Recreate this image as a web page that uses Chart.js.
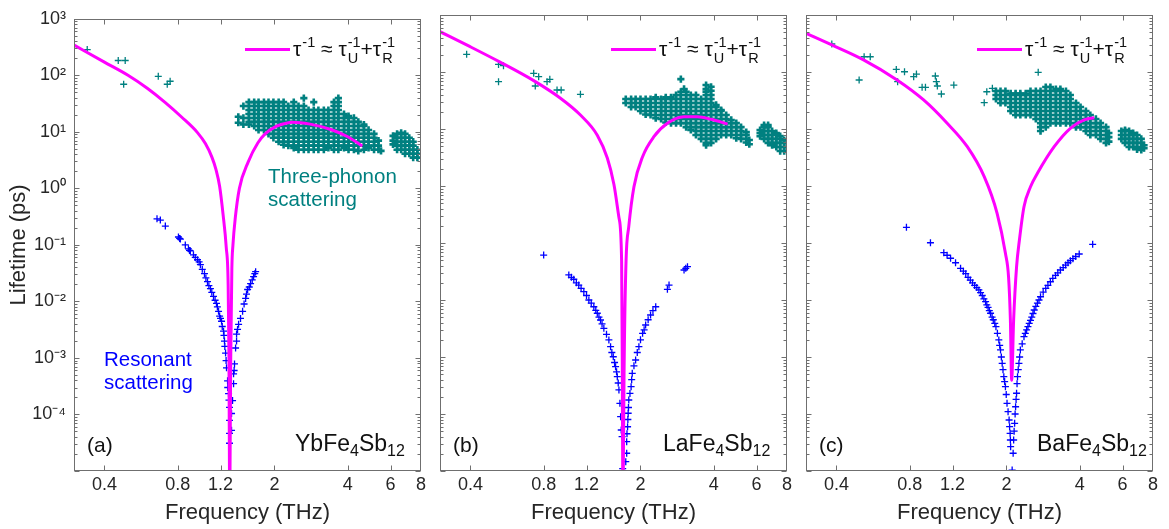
<!DOCTYPE html>
<html><head><meta charset="utf-8">
<script src="https://cdn.jsdelivr.net/npm/chart.js@4.4.1/dist/chart.umd.min.js"></script>
<style>
html,body{margin:0;padding:0;background:#fff;}
#wrap{position:relative;width:1169px;height:529px;overflow:hidden;font-family:"Liberation Sans",Arial,sans-serif;color:#262626;}
canvas{position:absolute;left:0;top:0;}
.t{position:absolute;white-space:nowrap;}
.ann{font-size:20.5px;line-height:23px;}
.tag{font-size:21px;line-height:22px;color:#111;}
.lab{font-size:23px;line-height:22px;color:#111;}
.lab sub{font-size:16px;vertical-align:-5px;line-height:0;}
.leg{font-size:21px;line-height:30px;color:#111;}
.st{display:inline-flex;flex-direction:column;vertical-align:middle;font-size:14.5px;line-height:16px;margin-left:1px;}
.bar{position:absolute;height:3px;width:45px;background:#ff00ff;}
</style></head><body><div id="wrap">
<canvas id="ca" width="1169" height="529"></canvas>
<canvas id="cb" width="1169" height="529"></canvas>
<canvas id="cc" width="1169" height="529"></canvas>
</div>
<script>
// ---------- axis ticks ----------
const xTickVals = [0.4, 0.8, 1.2, 2, 4, 6, 8];
const xTickLabels = ['0.4', '0.8', '1.2', '2', '4', '6', '8'];
const yTickVals = [1e-4, 1e-3, 1e-2, 1e-1, 1, 10, 100, 1000];
const yTickLabels = ['10\u207B\u2074', '10\u207B\u00B3', '10\u207B\u00B2', '10\u207B\u00B9', '10\u2070', '10\u00B9', '10\u00B2', '10\u00B3'];
const panelTags = ['(a)', '(b)', '(c)'];
const compounds = [['YbFe', '4', 'Sb', '12'], ['LaFe', '4', 'Sb', '12'], ['BaFe', '4', 'Sb', '12']];

// ---------- fitted curves: tau^-1 ~ tau_U^-1 + tau_R^-1 (freq THz, lifetime ps) ----------
const curveA = [[0.298,350],[0.4,171],[0.5,100],[0.6,58.9],[0.71,33.2],[0.83,18.3],[0.965,9.7],[1.04,6.2],[1.107,3.54],[1.15,2.15],[1.19,1.09],[1.23,0.34],[1.267,0.09],[1.29,0.02],[1.30,1e-3],[1.306,1e-5],[1.309,1e-7],[1.313,1e-5],[1.322,1e-3],[1.336,0.038],[1.35,0.1],[1.38,0.3],[1.435,1.0],[1.56,2.95],[1.71,6.4],[1.83,9.2],[2.04,12.6],[2.2,14.0],[2.37,14.8],[2.8,13.7],[3.41,11],[4.0,8.2],[4.59,5.6]];
const curveB = [[0.3,509],[0.399,278],[0.53,149],[0.728,70.6],[0.938,34.7],[1.133,17.6],[1.329,7.8],[1.461,3.09],[1.555,1.07],[1.631,0.28],[1.673,0.048],[1.683,1e-3],[1.69,1e-5],[1.695,1e-7],[1.70,1e-5],[1.715,1e-3],[1.745,0.05],[1.79,0.193],[1.88,0.973],[2.04,3.27],[2.27,7.33],[2.58,12.6],[3.02,16.4],[3.43,16.4],[3.9,14.8],[4.56,12.2]];
const curveC = [[0.3,477],[0.383,298],[0.517,163],[0.71,72.4],[0.913,32.3],[1.141,12.6],[1.38,4.89],[1.62,1.46],[1.83,0.332],[1.98,0.0659],[2.04,0.025],[2.075,4.5e-3],[2.10,3.9e-4],[2.14,4.5e-3],[2.2,0.038],[2.26,0.113],[2.36,0.434],[2.51,0.97],[2.68,1.67],[3.14,4.89],[3.66,10.3],[4.17,14.4],[4.59,15.8]];

// ---------- three-phonon lifetimes: isolated low-frequency points ----------
const tpSparseA = [[0.34,286],[0.456,183],[0.487,183],[0.48,69.5],[0.666,96],[0.725,69.5],[0.745,78.5]];
const tpSparseB = [[0.386,204],[0.522,136],[0.547,129],[0.522,67.6],[0.728,94.8],[0.763,82.8],[0.739,56.8],[0.826,67.6],[0.848,74.5],[0.908,48.3],[0.944,48.3],[1.133,40.6]];
const tpSparseC = [[0.383,310],[0.52,185],[0.551,185],[0.496,72.4],[0.705,111],[0.762,101],[0.831,82.8],[0.853,92],[0.714,67.6],[0.9,53.9],[0.929,53.9],[1.02,85],[1.03,67.6],[1.04,56.8],[1.08,41.1],[1.215,59],[2.70,98.8],[1.62,29],[1.66,45],[1.75,51.8]];

// ---------- three-phonon lifetimes: dense clusters, [freq, [lifetimes...]] ----------
const tpClusterA = [
[1.42,[18.5,14.5]],[1.49,[28.6,17.6,13.5]],[1.57,[33.6,28.6,24.3,20.7,17.6,15.0,13.5]],
[1.65,[33.6,28.6,24.3,20.7,17.6,15.0,12.7]],[1.72,[33.6,28.6,24.3,20.7,17.6,15.0,12.7,10.8]],
[1.81,[33.6,28.6,24.3,20.7,17.6,15.0,12.7,10.8]],[1.89,[33.6,28.6,24.3,20.7,17.6,15.0,12.7,10.8,9.2]],
[1.98,[33.6,28.6,24.3,20.7,17.6,15.0,12.7,10.8,9.2,7.85]],[2.08,[33.6,28.6,24.3,20.7,17.6,15.0,12.7,10.8,9.2,7.85,6.7]],
[2.18,[33.6,28.6,24.3,20.7,17.6,15.0,12.7,10.8,9.2,7.85,6.7,5.9]],[2.28,[28.6,24.3,20.7,17.6,15.0,12.7,10.8,9.2,7.85,6.7,5.7]],
[2.40,[33.6,28.6,24.3,20.7,17.6,15.0,12.7,10.8,9.2,7.85,6.7,5.7,5.2]],[2.51,[28.6,24.3,20.7,17.6,15.0,12.7,10.8,9.2,7.85,6.7,5.7,4.83]],
[2.64,[39.5,28.6,24.3,20.7,17.6,15.0,12.7,10.8,9.2,7.85,6.7,5.7,4.83]],[2.76,[24.3,20.7,17.6,15.0,12.7,10.8,9.2,7.85,6.7,5.7,4.83]],
[2.90,[33.6,24.3,20.7,17.6,15.0,12.7,10.8,9.2,7.85,6.7,5.7,4.83]],[3.03,[24.3,20.7,17.6,15.0,12.7,10.8,9.2,7.85,6.7,5.7,4.83]],
[3.19,[24.3,20.7,17.6,15.0,12.7,10.8,9.2,7.85,6.7,5.7,4.83]],[3.33,[24.3,20.7,17.6,15.0,12.7,10.8,9.2,7.85,6.7,5.7,5.2]],
[3.51,[33.6,28.6,24.3,20.7,17.6,15.0,12.7,10.8,9.2,7.85,6.7,5.7,4.83]],[3.66,[39.5,33.6,28.6,24.3,20.7,17.6,15.0,12.7,10.8,9.2,7.85,6.7,5.7,4.83]],
[3.86,[20.7,17.6,15.0,12.7,10.8,9.2,7.85,6.7,5.7,5.2]],[4.03,[19.0,17.6,15.0,12.7,10.8,9.2,7.85,6.7,5.7,4.83]],
[4.24,[17.6,15.0,12.7,10.8,9.2,7.85,6.7,5.7,4.83]],[4.42,[15.0,12.7,10.8,9.2,7.85,6.7,5.7,4.6]],
[4.66,[13.5,12.7,10.8,9.2,7.85,6.7,5.7,4.83]],[4.87,[10.8,9.2,7.85,6.7,5.7,5.2]],[5.13,[9.2,7.85,6.7,5.7,4.83]],
[5.35,[7.0,5.7,4.83]],[5.48,[4.6]],
[6.14,[8.5,7.0,6.0]],[6.38,[9.2,7.85,6.7,5.7,4.83]],[6.63,[9.6,7.85,6.7,5.7,4.83]],[6.88,[9.2,7.85,6.7,5.7,4.83,4.1]],
[7.16,[7.85,6.7,5.7,4.83,4.1]],[7.43,[6.7,5.7,4.83,4.1,3.5]],[7.73,[4.83,4.1,3.5]]
];
const tpClusterB = [
[1.74,[33.6,28.6]],[1.83,[33.6,28.6,24.3]],[1.91,[33.6,28.6,24.3]],[2.0,[33.6,28.6,24.3,20.7]],
[2.10,[33.6,28.6,24.3,20.7,18.0]],[2.20,[33.6,28.6,24.3,20.7,17.6]],[2.31,[36.0,33.6,28.6,24.3,20.7,17.6,15.5]],
[2.43,[33.6,28.6,24.3,20.7,17.6,15.0]],[2.54,[36.0,33.6,28.6,24.3,20.7,17.6,15.0,13.0]],
[2.67,[36.0,33.6,28.6,24.3,20.7,17.6,15.0,12.7]],[2.80,[39.5,33.6,28.6,24.3,20.7,17.6,15.0,12.7]],
[2.93,[75,45,39.5,33.6,28.6,24.3,20.7,17.6,15.0,12.7]],[3.02,[50.4]],
[3.08,[45,39.5,33.6,28.6,24.3,20.7,17.6,15.0,12.7,10.8]],[3.22,[39.5,33.6,28.6,24.3,20.7,17.6,15.0,12.7,10.8,9.6]],
[3.38,[39.5,33.6,28.6,24.3,20.7,17.6,15.0,12.7,10.8,9.2,7.85]],[3.55,[33.6,28.6,24.3,20.7,17.6,15.0,12.7,10.8,9.2,7.85,6.7]],
[3.72,[59,50,45,39.5,33.6,28.6,24.3,20.7,17.6,15.0,12.7,10.8,9.2,7.85,6.7,5.7,5.2]],
[3.90,[55,47,39.5,33.6,28.6,24.3,20.7,17.6,15.0,12.7,10.8,9.2,7.85,6.7,5.7]],
[4.09,[26.4,24.3,20.7,17.6,15.0,12.7,10.8,9.2,7.85,6.7]],[4.29,[21.5,20.7,17.6,15.0,12.7,10.8,9.2,7.85]],
[4.50,[17.6,15.0,12.7,10.8,9.2,7.85]],[4.72,[14.4,12.7,10.8,9.2,7.85]],[4.95,[12.7,10.8,9.2,7.85,6.9]],
[5.18,[10.8,9.2,7.85,6.7]],[5.44,[8.8,7.85,6.7,5.8]],[5.60,[6.4,5.4]],
[6.2,[9.6,8.5,7.5]],[6.44,[11.7,10.8,9.2,7.85,6.7]],[6.69,[11.7,10.8,9.2,7.85,6.7,5.7]],[6.95,[9.2,7.85,6.7,5.7,5.2]],
[7.23,[8.5,7.85,6.7,5.7,4.83]],[7.5,[7.5,6.7,5.7,4.83,4.1]],[7.79,[6.4,5.7,4.83,4.1]]
];
const tpClusterC = [
[1.81,[46.4,39.5,33.6]],[1.89,[46.4,39.5,33.6,28.6]],[1.98,[46.4,39.5,33.6,28.6]],[2.08,[42,39.5,33.6,28.6,24.3,20.7]],
[2.18,[42,39.5,33.6,28.6,24.3,20.7,17.6]],[2.28,[42,39.5,33.6,28.6,24.3,20.7,17.6]],[2.40,[42,39.5,33.6,28.6,24.3,20.7,17.6]],
[2.51,[46.4,39.5,33.6,28.6,24.3,20.7,17.6]],[2.64,[46.4,39.5,33.6,28.6,24.3,20.7,17.6,15.0]],
[2.76,[46.4,39.5,33.6,28.6,24.3,20.7,17.6,15.0,12.7,10.8,9.2]],[2.90,[54.6,46.4,39.5,33.6,28.6,24.3,20.7,17.6,15.0,12.7,10.8]],
[3.03,[54.6,46.4,39.5,33.6,28.6,24.3,20.7,17.6,15.0,12.7]],[3.19,[50,46.4,39.5,33.6,28.6,24.3,20.7,17.6,15.0,12.7]],
[3.33,[50,46.4,39.5,33.6,28.6,24.3,20.7,17.6,15.0,12.7]],[3.51,[46.4,39.5,33.6,28.6,24.3,20.7,17.6,15.0,12.7]],
[3.66,[39.5,33.6,28.6,24.3,20.7,17.6,15.0,12.7]],[3.86,[28.6,24.3,20.7,17.6,15.0,12.7,10.8]],
[4.03,[24.3,20.7,17.6,15.0,12.7,10.8]],[4.24,[20.7,17.6,15.0,12.7,10.8,9.2]],[4.42,[17.6,15.0,12.7,10.8,9.2,7.85]],
[4.66,[15.0,12.7,10.8,9.2,7.85]],[4.87,[12.7,10.8,9.2,7.85,6.7]],[5.13,[10.8,9.2,7.85,6.7,5.7]],[5.27,[8.5,7.2,6.0]],
[5.93,[9.2,7.85,6.7]],[6.14,[9.6,9.2,7.85,6.7,5.7]],[6.38,[9.2,7.85,6.7,5.7,4.83]],[6.63,[8.5,7.85,6.7,5.7,4.83]],
[6.88,[7.85,6.7,5.7,4.83,4.4]],[7.16,[6.7,5.7,4.83,4.3]],[7.35,[5.2,4.6]]
];

// ---------- resonant-scattering lifetimes ----------
const resA = [[0.658,0.289],[0.679,0.275],[0.712,0.215],[0.806,0.138],[0.815,0.13],[0.821,0.127],[0.86,0.1],[0.886,0.0851],[0.895,0.08],[0.902,0.0785],[0.929,0.0668],[0.945,0.06],[0.965,0.0546],[0.98,0.05],[0.992,0.0446],[1.01,0.037],[1.031,0.031],[1.045,0.026],[1.061,0.0224],[1.075,0.019],[1.091,0.0169],[1.105,0.0145],[1.123,0.01225],[1.14,0.0105],[1.155,0.00922],[1.165,0.008],[1.178,0.00668],[1.19,0.0055],[1.2,0.005],[1.212,0.00446],[1.22,0.0036],[1.235,0.00298],[1.24,0.0025],[1.246,0.00199],[1.25,0.0016],[1.259,0.00122],[1.265,0.0009],[1.27,0.000668],[1.283,0.000394],[1.285,0.0003],[1.295,0.000233],[1.30,0.00018],[1.307,0.000133],[1.307,7.85e-5],[1.307,4.64e-5],[1.307,3.1e-5],
[1.673,0.0336],[1.66,0.031],[1.641,0.0275],[1.62,0.024],[1.595,0.0207],[1.575,0.018],[1.551,0.01625],[1.535,0.0135],[1.522,0.0113],[1.50,0.009],[1.479,0.00668],[1.45,0.005],[1.424,0.00394],[1.41,0.0032],[1.397,0.00264],[1.397,0.00199],[1.384,0.0015],[1.37,0.000785],[1.365,0.0006],[1.358,0.000524],[1.358,0.00035],[1.345,0.000176],[1.332,0.000104],[1.332,5.24e-5]];
const resB = [[0.8,0.0615],[1.015,0.0275],[1.04,0.025],[1.064,0.0231],[1.09,0.02],[1.115,0.0183],[1.14,0.016],[1.17,0.014],[1.2,0.012],[1.227,0.01],[1.255,0.0088],[1.286,0.00762],[1.31,0.0066],[1.329,0.00585],[1.35,0.005],[1.37,0.00446],[1.39,0.0038],[1.414,0.00319],[1.45,0.0025],[1.483,0.00199],[1.507,0.00152],[1.525,0.0012],[1.546,0.00101],[1.565,0.0008],[1.58,0.000676],[1.595,0.00055],[1.606,0.000451],[1.62,0.00035],[1.631,0.000264],[1.646,0.000154],[1.657,8.98e-5],[1.667,5.24e-5],[1.68,4.0e-5],[1.69,1.1e-5],
[3.12,0.0384],[3.07,0.036],[3.02,0.0336],[2.62,0.0183],[2.58,0.0154],[2.31,0.00762],[2.25,0.0065],[2.20,0.00546],[2.15,0.0045],[2.10,0.00364],[2.07,0.003],[2.04,0.0026],[2.0,0.002],[1.97,0.00152],[1.94,0.0012],[1.91,0.000885],[1.88,0.0007],[1.85,0.000518],[1.84,0.0004],[1.83,0.000301],[1.81,0.00023],[1.79,0.000176],[1.785,0.00013],[1.78,0.000103],[1.775,8e-5],[1.77,5.98e-5],[1.76,4.5e-5],[1.755,3.27e-5],[1.755,2.05e-5],[1.74,1.46e-5]];
const resC = [[0.776,0.188],[0.974,0.101],[1.105,0.0676],[1.14,0.061],[1.178,0.054],[1.235,0.045],[1.295,0.036],[1.33,0.032],[1.36,0.029],[1.39,0.025],[1.42,0.0224],[1.45,0.02],[1.48,0.018],[1.51,0.0165],[1.54,0.015],[1.565,0.0135],[1.59,0.012],[1.615,0.0105],[1.641,0.00934],[1.66,0.0082],[1.68,0.0074],[1.70,0.0065],[1.72,0.00585],[1.745,0.005],[1.765,0.0045],[1.79,0.0039],[1.81,0.0034],[1.835,0.0026],[1.86,0.00199],[1.875,0.0016],[1.89,0.00133],[1.905,0.001],[1.92,0.000774],[1.935,0.0006],[1.95,0.000451],[1.965,0.00037],[1.98,0.000301],[1.995,0.00022],[2.01,0.000154],[2.03,0.00011],[2.05,7.85e-5],[2.06,6e-5],[2.07,4.58e-5],[2.075,3.5e-5],[2.08,2.67e-5],[2.11,1.04e-5],
[4.52,0.0948],[3.98,0.0641],[3.85,0.058],[3.75,0.053],[3.66,0.0489],[3.58,0.045],[3.5,0.041],[3.42,0.037],[3.33,0.0336],[3.25,0.030],[3.18,0.027],[3.10,0.024],[3.03,0.0209],[2.96,0.018],[2.9,0.016],[2.83,0.0137],[2.76,0.0114],[2.72,0.010],[2.68,0.0088],[2.64,0.0077],[2.60,0.00668],[2.57,0.0058],[2.54,0.005],[2.51,0.0044],[2.48,0.0039],[2.45,0.0034],[2.42,0.003],[2.39,0.0026],[2.36,0.00227],[2.32,0.0017],[2.28,0.00133],[2.265,0.001],[2.25,0.000774],[2.235,0.0006],[2.22,0.000451],[2.21,0.00034],[2.20,0.000231],[2.19,0.00018],[2.18,0.000134],[2.17,0.0001],[2.16,6.87e-5],[2.15,5e-5],[2.14,3.5e-5],[2.13,2.05e-5]];

// ---------- layout & style ----------
const W = 1169, H = 529;
const PANEL_LEFT = [74, 440, 806], PANEL_W = 347, PLOT_TOP = 15, PLOT_BOTTOM = 471;
const FONT = '"Liberation Sans", Arial, sans-serif';
const TEAL = '#008080', BLUE = '#0000ff', MAGENTA = '#ff00ff', FRAME = '#6f6f6f', TXT = '#262626';

const pts = list => list.map(([x, y]) => ({x, y}));
const cols = list => { const out = []; list.forEach(([f, vs]) => vs.forEach(v => out.push({x: f, y: v}))); return out; };

const frameTicks = {
  id: 'frameTicks',
  afterDatasetsDraw(chart) {
    const {ctx, chartArea: {left, right, top, bottom}, scales: {x, y}} = chart;
    const l = Math.round(left) + 0.5, r = Math.round(right) - 0.5, t = Math.round(top) + 0.5, b = Math.round(bottom) - 0.5;
    ctx.save();
    ctx.strokeStyle = FRAME; ctx.lineWidth = 1;
    ctx.beginPath();
    xTickVals.forEach(v => {
      const px = Math.round(x.getPixelForValue(v)) + 0.5;
      if (px < l + 1 || px > r - 1) return;
      ctx.moveTo(px, b); ctx.lineTo(px, b - 5);
      ctx.moveTo(px, t); ctx.lineTo(px, t + 5);
    });
    for (let e = -5; e <= 3; e++) {
      for (let m = 1; m <= 9; m++) {
        const v = Number(m + 'e' + e);
        if (v < 1e-5 || v > 1e3) continue;
        const py = Math.round(y.getPixelForValue(v)) + 0.5;
        const len = m === 1 ? 5 : 3;
        ctx.moveTo(l, py); ctx.lineTo(l + len, py);
        ctx.moveTo(r, py); ctx.lineTo(r - len, py);
      }
    }
    ctx.stroke();
    ctx.strokeRect(l, t, r - l, b - t);
    ctx.restore();
  }
};

function makePanel(idx, canvasId, curve, sparse, cluster, res) {
  const L = PANEL_LEFT[idx];
  const showY = idx === 0;
  const yW = showY ? 74 : 0;
  const cross = (color, w, r) => ({pointStyle: 'cross', pointRadius: r, borderWidth: w, borderColor: color, backgroundColor: color, clip: 0});
  return new Chart(document.getElementById(canvasId), {
    type: 'scatter',
    data: {datasets: [
      {data: pts(curve), showLine: true, borderColor: MAGENTA, borderWidth: 3, pointRadius: 0,
       cubicInterpolationMode: 'monotone', clip: 0},
      Object.assign({data: pts(res)}, cross(BLUE, 1.3, 3.5)),
      Object.assign({data: pts(sparse)}, cross(TEAL, 1.3, 3.5)),
      Object.assign({data: cols(cluster)}, cross(TEAL, 2.6, 3.6))
    ]},
    options: {
      responsive: false, animation: false, devicePixelRatio: 1, events: [],
      layout: {padding: {left: L - yW, right: W - (L + PANEL_W), top: PLOT_TOP, bottom: 0}},
      plugins: {legend: {display: false}, tooltip: {enabled: false}},
      scales: {
        x: {
          type: 'logarithmic', min: 0.3, max: 8, position: 'bottom',
          afterBuildTicks: s => { s.ticks = xTickVals.map(v => ({value: v})); },
          afterFit: s => { s.height = H - PLOT_BOTTOM; },
          grid: {display: false, drawTicks: false}, border: {display: false},
          ticks: {autoSkip: false, maxRotation: 0, minRotation: 0, padding: 3, color: TXT,
                  font: {family: FONT, size: 18}, callback: (v, i) => xTickLabels[i]},
          title: {display: true, text: 'Frequency (THz)', color: TXT, font: {family: FONT, size: 22},
                  padding: {top: 0, bottom: 3}}
        },
        y: {
          type: 'logarithmic', min: 1e-5, max: 1e3, display: showY, position: 'left',
          afterBuildTicks: s => { s.ticks = yTickVals.map(v => ({value: v})); },
          afterFit: s => { s.width = yW; },
          grid: {display: false, drawTicks: false}, border: {display: false},
          ticks: {autoSkip: false, padding: 8, color: TXT, font: {family: FONT, size: 18},
                  callback: (v, i) => yTickLabels[i]},
          title: {display: showY, text: 'Lifetime (ps)', color: TXT, font: {family: FONT, size: 22},
                  padding: {top: 6, bottom: 0}}
        }
      }
    },
    plugins: [frameTicks]
  });
}

makePanel(0, 'ca', curveA, tpSparseA, tpClusterA, resA);
makePanel(1, 'cb', curveB, tpSparseB, tpClusterB, resB);
makePanel(2, 'cc', curveC, tpSparseC, tpClusterC, resC);

// ---------- text overlays (legend, annotations, panel labels) ----------
const wrap = document.getElementById('wrap');
function addText(cls, html, left, top, color) {
  const d = document.createElement('div');
  d.className = 't ' + cls; d.innerHTML = html;
  d.style.left = left + 'px'; d.style.top = top + 'px';
  if (color) d.style.color = color;
  wrap.appendChild(d);
}
const stk = (sup, sub) => '<span class="st"><span>' + sup + '</span><span>' + sub + '</span></span>';
const legendHtml = '\u03C4' + stk('-1', '&nbsp;') + ' \u2248 \u03C4' + stk('-1', 'U') + '+\u03C4' + stk('-1', 'R');
PANEL_LEFT.forEach((L, i) => {
  const bar = document.createElement('div');
  bar.className = 'bar'; bar.style.left = (L + 171) + 'px'; bar.style.top = '48px';
  wrap.appendChild(bar);
  addText('leg', legendHtml, L + 219, 34);
  addText('tag', panelTags[i], L + 13, 434);
  const c = compounds[i];
  addText('lab', c[0] + '<sub>' + c[1] + '</sub>' + c[2] + '<sub>' + c[3] + '</sub>', L + [221, 223, 231][i], 432);
});
addText('ann', 'Three-phonon<br>scattering', 268, 164, TEAL);
addText('ann', 'Resonant<br>scattering', 104, 347, BLUE);
</script>
</body></html>
